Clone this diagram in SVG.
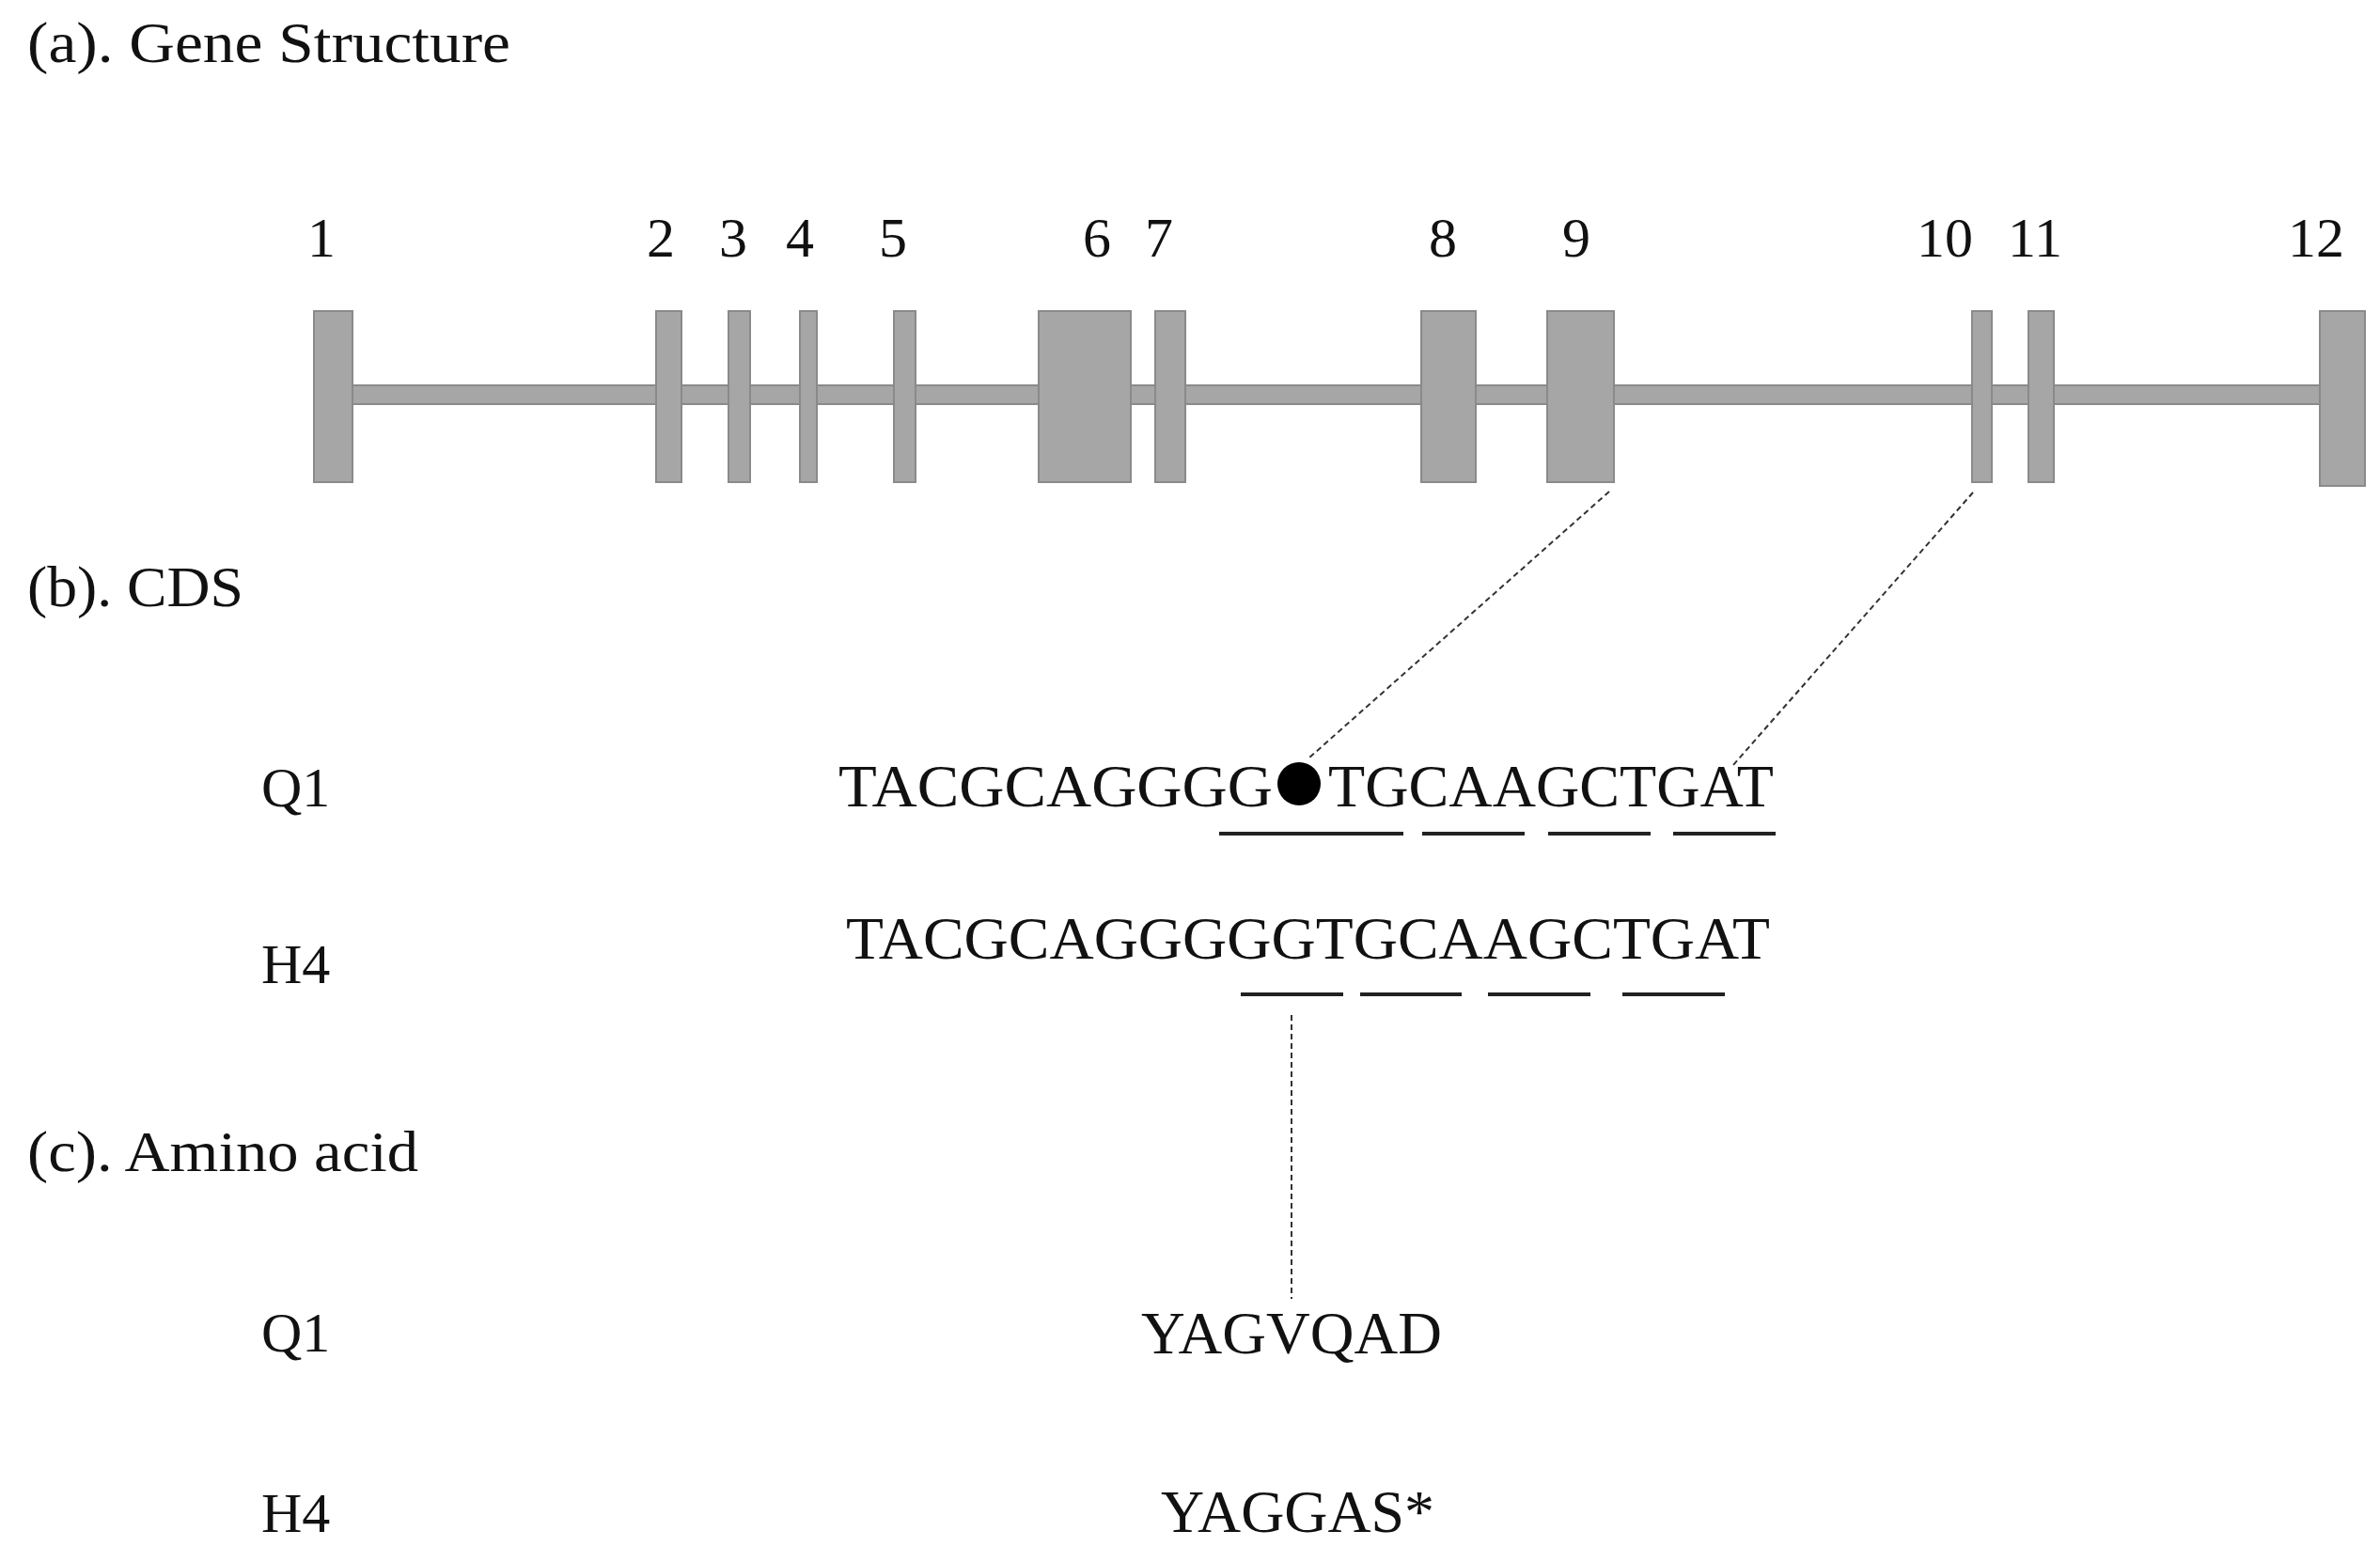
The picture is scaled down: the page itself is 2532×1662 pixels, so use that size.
<svg xmlns="http://www.w3.org/2000/svg" width="2532" height="1662" viewBox="0 0 2532 1662">
<style>
text{font-family:"Liberation Serif","DejaVu Serif",serif;fill:#111;font-size:60px}
.hd{font-size:62px}
.ex{fill:#a6a6a6;stroke:#8a8a8a;stroke-width:2}
.seq{font-size:64px}
.ul{stroke:#222;stroke-width:4}
.dash{stroke:#333;stroke-width:2;stroke-dasharray:6 4;fill:none}
.num{text-anchor:middle;font-size:60px}
</style>
<rect width="2532" height="1662" fill="#fff"/>
<text class="hd" x="29" y="66" textLength="514" lengthAdjust="spacingAndGlyphs">(a). Gene Structure</text>
<text class="hd" x="29" y="645" textLength="230" lengthAdjust="spacingAndGlyphs">(b). CDS</text>
<text class="hd" x="29" y="1246" textLength="416" lengthAdjust="spacingAndGlyphs">(c). Amino acid</text>
<g id="gene">
<rect class="ex" x="375" y="410" width="2093" height="20"/>
<rect class="ex" x="334" y="331" width="41" height="182"/>
<rect class="ex" x="698" y="331" width="27" height="182"/>
<rect class="ex" x="775" y="331" width="23" height="182"/>
<rect class="ex" x="851" y="331" width="18" height="182"/>
<rect class="ex" x="951" y="331" width="23" height="182"/>
<rect class="ex" x="1105" y="331" width="98" height="182"/>
<rect class="ex" x="1229" y="331" width="32" height="182"/>
<rect class="ex" x="1512" y="331" width="58" height="182"/>
<rect class="ex" x="1646" y="331" width="71" height="182"/>
<rect class="ex" x="2098" y="331" width="21" height="182"/>
<rect class="ex" x="2158" y="331" width="27" height="182"/>
<rect class="ex" x="2468" y="331" width="48" height="186"/>
</g>
<g id="labels">
<text class="num" x="342" y="273">1</text>
<text class="num" x="703" y="273">2</text>
<text class="num" x="780" y="273">3</text>
<text class="num" x="851" y="273">4</text>
<text class="num" x="950" y="273">5</text>
<text class="num" x="1167" y="273">6</text>
<text class="num" x="1233" y="273">7</text>
<text class="num" x="1535" y="273">8</text>
<text class="num" x="1677" y="273">9</text>
<text class="num" x="2069" y="273">10</text>
<text class="num" x="2165" y="273">11</text>
<text class="num" x="2464" y="273">12</text>
</g>
<g id="cds">
<text x="278" y="858">Q1</text>
<text class="seq" x="892" y="858" textLength="462" lengthAdjust="spacingAndGlyphs">TACGCAGGGG</text>
<circle cx="1382" cy="834" r="23" fill="#000"/>
<text class="seq" x="1413" y="858" textLength="474" lengthAdjust="spacingAndGlyphs">TGCAAGCTGAT</text>
<line class="ul" x1="1297" y1="887" x2="1493" y2="887"/>
<line class="ul" x1="1513" y1="887" x2="1622" y2="887"/>
<line class="ul" x1="1647" y1="887" x2="1756" y2="887"/>
<line class="ul" x1="1780" y1="887" x2="1889" y2="887"/>
<text x="278" y="1046">H4</text>
<text class="seq" x="900" y="1020" textLength="983" lengthAdjust="spacingAndGlyphs">TACGCAGGGGGTGCAAGCTGAT</text>
<line class="ul" x1="1320" y1="1058" x2="1429" y2="1058"/>
<line class="ul" x1="1447" y1="1058" x2="1555" y2="1058"/>
<line class="ul" x1="1583" y1="1058" x2="1692" y2="1058"/>
<line class="ul" x1="1726" y1="1058" x2="1835" y2="1058"/>
</g>
<g id="amino">
<text x="278" y="1438">Q1</text>
<text class="seq" x="1214" y="1440" textLength="320" lengthAdjust="spacingAndGlyphs">YAGVQAD</text>
<text x="278" y="1630">H4</text>
<text class="seq" x="1235" y="1630" textLength="291" lengthAdjust="spacingAndGlyphs">YAGGAS*</text>
</g>
<g id="connectors">
<line class="dash" x1="1712" y1="523" x2="1392" y2="807"/>
<line class="dash" x1="2099" y1="524" x2="1843" y2="815"/>
<line class="dash" x1="1374" y1="1080" x2="1374" y2="1382"/>
</g>
</svg>
